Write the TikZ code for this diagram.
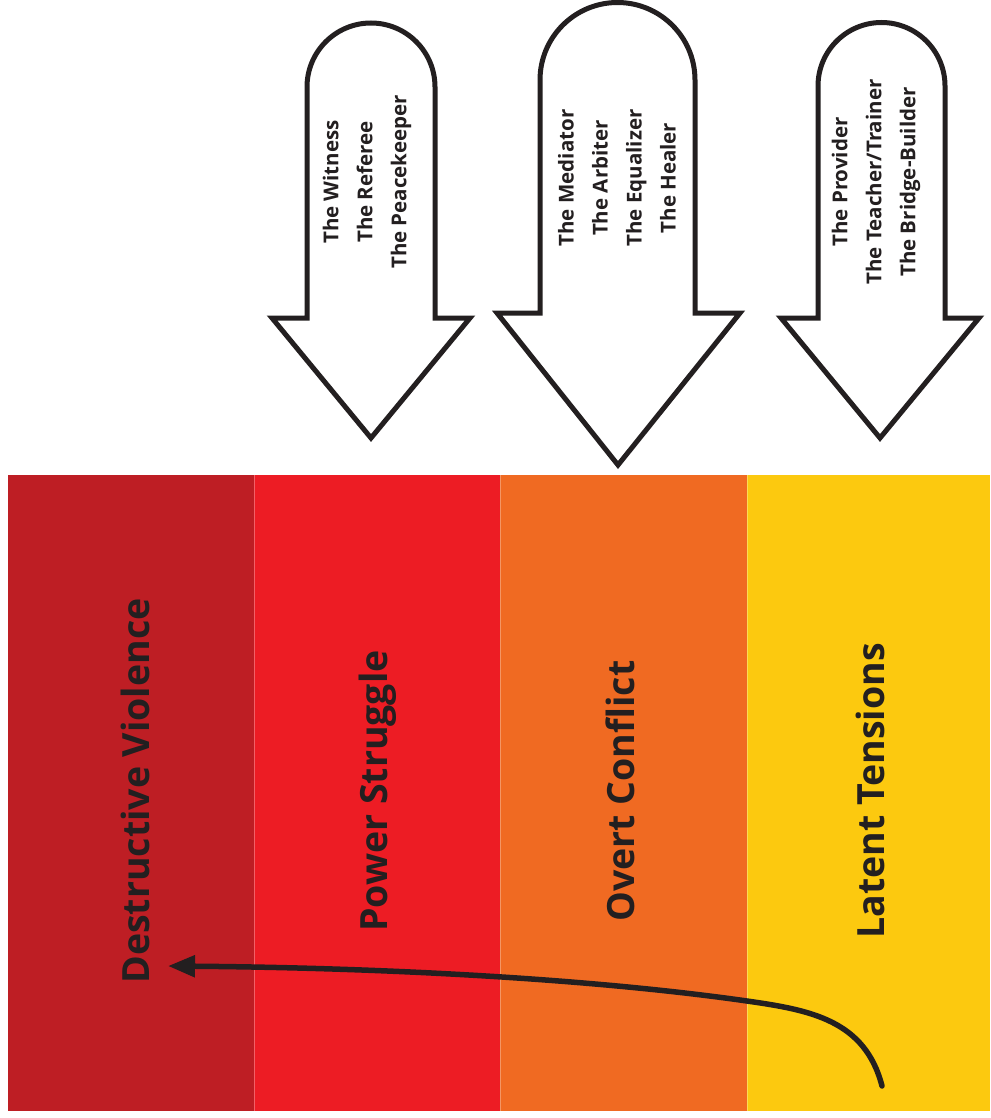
\documentclass[tikz,border=0pt]{standalone}
\usepackage{fontspec}
\setmainfont{Open Sans}
\usetikzlibrary{arrows.meta}
\definecolor{ink}{HTML}{231F20}
\definecolor{cViolence}{HTML}{BE1E24}
\definecolor{cStruggle}{HTML}{ED1C24}
\definecolor{cConflict}{HTML}{F06A22}
\definecolor{cTension}{HTML}{FCC90F}
\tikzset{
  band/.style={rectangle, draw=none, minimum width=#1, minimum height=636pt, inner sep=0pt},
  bandlabel/.style={rotate=90, text=ink, font=\fontsize{37.5}{44}\selectfont\bfseries, inner sep=0pt},
  rolearrow/.style={draw=ink, fill=white, line width=5pt, line join=miter},
  roles/.style={rotate=90, text=ink, align=center, font=\fontsize{20.5}{34}\selectfont\bfseries, inner sep=0pt},
  divider/.style={white, opacity=0.3, line width=0.8pt},
  flow/.style={draw=ink, line width=5.5pt, line cap=round, -{Triangle[length=27pt, width=21pt]}}
}
\begin{document}
\begin{tikzpicture}[x=1pt, y=-1pt]
\useasboundingbox (0,0) rectangle (990,1118);

% escalation bands
\node[band=246pt, fill=cViolence] (bViolence) at (131,793) {};
\node[band=246pt, fill=cStruggle] (bStruggle) at (377,793) {};
\node[band=247pt, fill=cConflict] (bConflict) at (623.5,793) {};
\node[band=243pt, fill=cTension]  (bTension)  at (868.5,793) {};

\draw[divider] (bViolence.north east) -- (bViolence.south east);
\draw[divider] (bStruggle.north east) -- (bStruggle.south east);
\draw[divider] (bConflict.north east) -- (bConflict.south east);

\node[bandlabel] (lViolence) at (135,791) {Destructive Violence};
\node[bandlabel] (lStruggle) at (378,791) {Power Struggle};
\node[bandlabel] (lConflict) at (620,791) {Overt Conflict};
\node[bandlabel] (lTension)  at (870,791) {Latent Tensions};

% third-party role arrows
\draw[rolearrow] (307,318) -- (307,87) arc (180:360:64) -- (435,318)
  -- (470,318) -- (371,438) -- (272,318) -- cycle;
\draw[rolearrow] (540,313) -- (540,80) arc (180:360:77.5) -- (695,313)
  -- (740,313) -- (618,465) -- (497,313) -- cycle;
\draw[rolearrow] (818,318) -- (818,86) arc (180:360:63.5) -- (945,318)
  -- (979,318) -- (880,438) -- (781,318) -- cycle;

\node[roles] (rPrevent) at (367,182) {The Witness\\The Referee\\The Peacekeeper};
\node[roles] (rResolve) at (617,178) {The Mediator\\The Arbiter\\The Equalizer\\The Healer};
\node[roles] (rContain) at (876,182) {The Provider\\The Teacher/Trainer\\The Bridge-Builder};

% escalation path
\coordinate (pStart) at (882,1086);
\coordinate (pMid) at (747,1001);
\coordinate (pEnd) at (168,966);
\draw[flow] (pStart) .. controls (865,1020) and (810,1010) .. (pMid)
  .. controls (600,980) and (400,968) .. (pEnd);
\end{tikzpicture}
\end{document}
